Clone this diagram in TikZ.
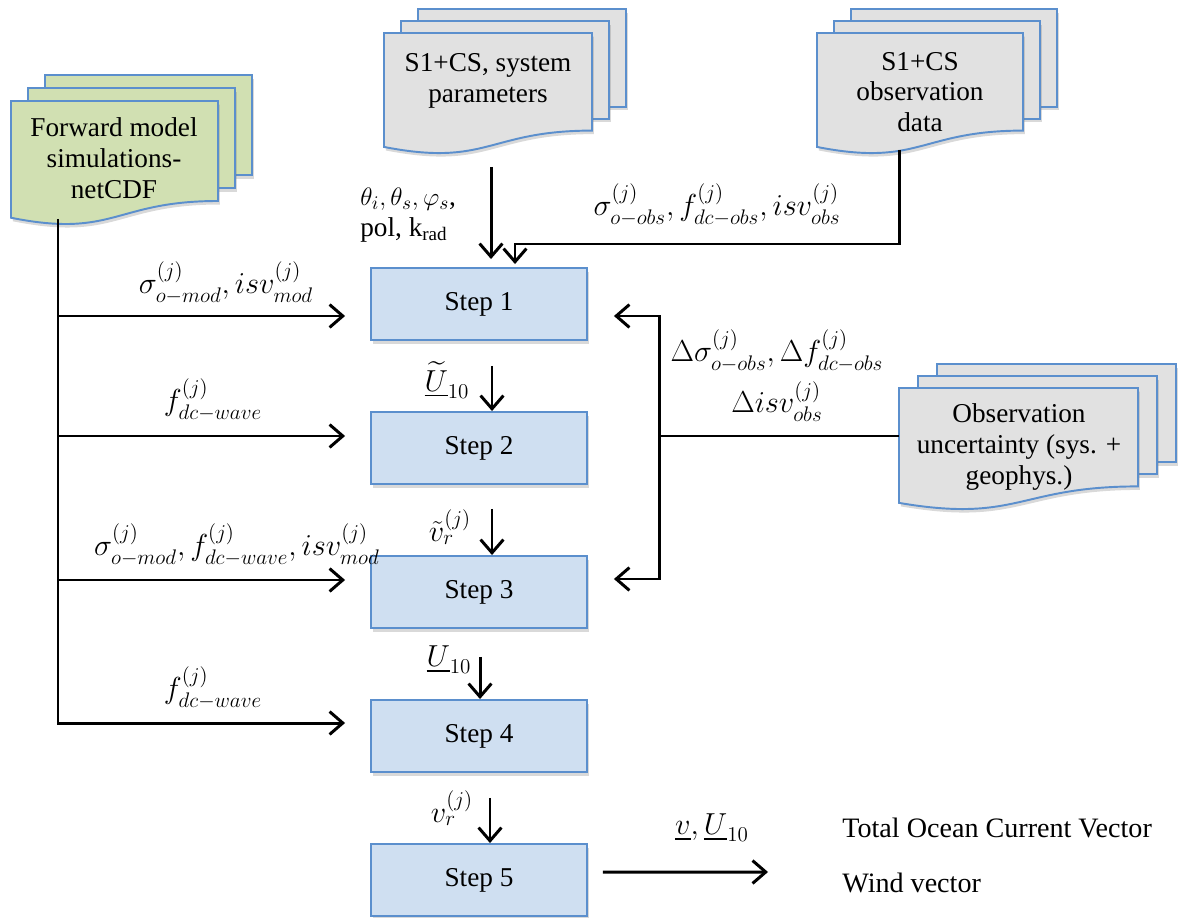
\documentclass[tikz,border=0pt]{standalone}
\usepackage{amsmath}
\usepackage{fontspec}
\setmainfont{Liberation Serif}
\usetikzlibrary{arrows.meta,shadows}

\definecolor{stepblue}{RGB}{207,223,241}
\definecolor{edgeblue}{RGB}{91,143,205}
\definecolor{docgreen}{RGB}{209,224,178}
\definecolor{docgray}{RGB}{225,225,225}

% stack of three pages with a wavy bottom: x1, y1, x2, H, dx, dy, fill
\newcommand{\docstack}[7]{%
  \foreach \k in {2,1}
    \filldraw[docpage, fill=#7] (#1+\k*#5, #2-\k*#6) rectangle (#3+\k*#5, #2+0.8*#4-\k*#6);
  \filldraw[docpage, fill=#7] (#1,#2) -- (#3,#2) -- (#3,#2+0.8*#4)
    .. controls ({(#1+#3)/2},#2+0.8*#4) and ({(#1+#3)/2},#2+1.1*#4) .. (#1,#2+0.934*#4) -- cycle;
}

\begin{document}
\begin{tikzpicture}[x=0.02cm, y=-0.02cm, line width=1.7pt,
    >={Straight Barb[length=7.5pt,width=13pt]},
    every node/.style={font=\fontsize{15.5}{17.5}\selectfont},
    stepbox/.style={draw=edgeblue, fill=stepblue, line width=1.1pt,
        minimum width=4.32cm, minimum height=1.44cm,
        drop shadow={shadow xshift=1pt, shadow yshift=-2pt, opacity=0.3}},
    docpage/.style={draw=edgeblue, line width=1.1pt,
        drop shadow={shadow xshift=1pt, shadow yshift=-2pt, opacity=0.3}},
    doctext/.style={align=center},
    lab/.style={font=\fontsize{17.5}{20}\selectfont}]

    \useasboundingbox (0,0) rectangle (1179,918);

    \node[stepbox] (s1) at (479,304) {Step 1};
    \node[stepbox] (s2) at (479,448) {Step 2};
    \node[stepbox] (s3) at (479,592) {Step 3};
    \node[stepbox] (s4) at (479,736) {Step 4};
    \node[stepbox] (s5) at (479,880) {Step 5};

    \docstack{11}{101}{218}{125}{17}{13}{docgreen}
    \node[doctext] (fwd) at (114,158) {Forward model\\simulations-\\netCDF};
    \docstack{384}{33}{592}{122}{17}{12}{docgray}
    \node[doctext] (sys) at (488,81) {S1+CS, system\\parameters};
    \docstack{817}{33}{1023}{122}{17}{12}{docgray}
    \node[doctext] (obs) at (920,92) {S1+CS\\observation\\data};
    \docstack{899}{388}{1138}{123}{19}{12}{docgray}
    \node[doctext] (unc) at (1019,447) {Observation\\uncertainty (sys. +\\geophys.)};

    \coordinate (fwdout) at (58,219);
    \coordinate (sysout) at (491,167);
    \coordinate (obsout) at (899,150);
    \coordinate (uncin) at (899,436);
    \coordinate (outend) at (768,872);

    \coordinate (in1) at ([yshift=-0.24cm]s1.west);
    \coordinate (in2) at ([yshift=0.24cm]s2.west);
    \coordinate (in3) at ([yshift=0.24cm]s3.west);
    \coordinate (in4) at ([yshift=0.26cm]s4.west);
    \coordinate (rin1) at ([yshift=-0.24cm]s1.east);
    \coordinate (rin3) at ([yshift=0.26cm]s3.east);

    \draw[->, shorten >=0.5cm] (fwdout) |- (in4);
    \foreach \n in {1,2,3}
        \draw[->, shorten >=0.5cm] (fwdout |- in\n) -- (in\n);

    \draw[->, shorten >=0.52cm] (uncin) -- ++(-240,0) |- (rin1);
    \draw[->, shorten >=0.52cm] (uncin) ++(-240,0) |- (rin3);

    \draw[->, shorten >=0.16cm] (sysout) -- (sysout |- s1.north);
    \draw[->, shorten >=0.06cm] (obsout) -- ++(0,94) -| ([xshift=0.72cm]s1.north);

    \draw[->] ([xshift=0.26cm, yshift=-0.5cm]s1.south) -- ([xshift=0.26cm]s2.north);
    \draw[->] ([xshift=0.26cm, yshift=-0.48cm]s2.south) -- ([xshift=0.26cm]s3.north);
    \draw[->] ([xshift=0.02cm, yshift=-0.56cm]s3.south) -- ([xshift=0.02cm]s4.north);
    \draw[->] ([xshift=0.22cm, yshift=-0.5cm]s4.south) -- ([xshift=0.22cm]s5.north);
    \draw[->, shorten <=0.3cm] ([yshift=0.16cm]s5.east) -- (outend);

    \node[lab] (lmod1) at (226,283) {$\sigma^{(j)}_{o-mod}, isv^{(j)}_{mod}$};
    \node[lab] (lwave1) at (213,400) {$f^{(j)}_{dc-wave}$};
    \node[lab] (lmod2) at (237,545) {$\sigma^{(j)}_{o-mod}, f^{(j)}_{dc-wave}, isv^{(j)}_{mod}$};
    \node[lab] (lwave2) at (213,688) {$f^{(j)}_{dc-wave}$};
    \node[align=left, anchor=west] (lgeom) at (353,215) {$\theta_i, \theta_s, \varphi_s$,\\pol, k\textsubscript{rad}};
    \node[lab] (lobs) at (717,205) {$\sigma^{(j)}_{o-obs}, f^{(j)}_{dc-obs}, isv^{(j)}_{obs}$};
    \node[lab, align=center] (lerr) at (777,376) {$\Delta\sigma^{(j)}_{o-obs}, \Delta f^{(j)}_{dc-obs}$\\[4pt]$\Delta isv^{(j)}_{obs}$};

    \node[lab] (lu1) at (447,380) {$\underline{\widetilde{U}}_{10}$};
    \node[lab] (lvr1) at (450,527) {$\tilde{v}^{(j)}_r$};
    \node[lab] (lu2) at (449,660) {$\underline{U}_{10}$};
    \node[lab] (lvr2) at (452,808) {$v^{(j)}_r$};
    \node[lab] (lout) at (712,828) {$\underline{v}, \underline{U}_{10}$};
    \node[anchor=west, font=\fontsize{16}{19}\selectfont] (lcur) at (835,828) {Total Ocean Current Vector};
    \node[anchor=west, font=\fontsize{16}{19}\selectfont] (lwind) at (835,883) {Wind vector};
\end{tikzpicture}
\end{document}
